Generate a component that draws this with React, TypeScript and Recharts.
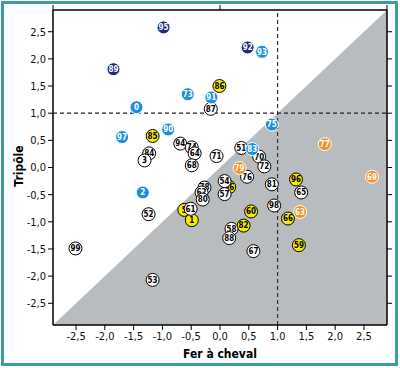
import { ComposedChart, Area, Scatter, XAxis, YAxis, ReferenceLine } from 'recharts'

// points: x = Fer à cheval, y = Tripôle
const navyPts = [
  { x: -0.98, y: 2.58, id: '95' },
  { x: -1.85, y: 1.81, id: '89' },
  { x: 0.48, y: 2.21, id: '92' },
]
const bluePts = [
  { x: 0.73, y: 2.13, id: '93' },
  { x: -0.56, y: 1.35, id: '73' },
  { x: -0.15, y: 1.29, id: '91' },
  { x: -1.45, y: 1.11, id: '0' },
  { x: 0.9, y: 0.79, id: '75' },
  { x: -0.9, y: 0.7, id: '90' },
  { x: -1.7, y: 0.56, id: '97' },
  { x: 0.56, y: 0.34, id: '83' },
  { x: -1.34, y: -0.46, id: '2' },
]
const yellowPts = [
  { x: -0.01, y: 1.5, id: '86' },
  { x: -1.17, y: 0.58, id: '85' },
  { x: 1.32, y: -0.22, id: '96' },
  { x: 0.16, y: -0.36, id: '56' },
  { x: 0.54, y: -0.81, id: '60' },
  { x: 1.18, y: -0.94, id: '66' },
  { x: 0.41, y: -1.07, id: '82' },
  { x: 1.37, y: -1.43, id: '59' },
  { x: -0.62, y: -0.78, id: '5' },
  { x: -0.49, y: -0.97, id: '1' },
]
const orangePts = [
  { x: 1.82, y: 0.43, id: '77' },
  { x: 0.34, y: -0.01, id: '79' },
  { x: 2.64, y: -0.17, id: '69' },
  { x: 1.39, y: -0.82, id: '63' },
]
const whitePts = [
  { x: -0.16, y: 1.08, id: '87' },
  { x: -0.69, y: 0.44, id: '94' },
  { x: -0.49, y: 0.37, id: '74' },
  { x: -0.44, y: 0.26, id: '64' },
  { x: -1.23, y: 0.26, id: '84' },
  { x: -1.31, y: 0.13, id: '3' },
  { x: -0.49, y: 0.04, id: '68' },
  { x: 0.37, y: 0.36, id: '51' },
  { x: -0.06, y: 0.21, id: '71' },
  { x: 0.68, y: 0.2, id: '70' },
  { x: 0.77, y: 0.02, id: '72' },
  { x: 0.47, y: -0.17, id: '76' },
  { x: 0.08, y: -0.25, id: '54' },
  { x: 0.08, y: -0.49, id: '57' },
  { x: -0.27, y: -0.37, id: '78' },
  { x: -0.32, y: -0.46, id: '62' },
  { x: -0.3, y: -0.59, id: '80' },
  { x: 0.9, y: -0.31, id: '81' },
  { x: 1.41, y: -0.46, id: '65' },
  { x: 0.94, y: -0.7, id: '98' },
  { x: 0.2, y: -1.13, id: '58' },
  { x: 0.16, y: -1.3, id: '88' },
  { x: 0.58, y: -1.54, id: '67' },
  { x: -0.51, y: -0.76, id: '61' },
  { x: -1.24, y: -0.86, id: '52' },
  { x: -2.51, y: -1.49, id: '99' },
  { x: -1.17, y: -2.07, id: '53' },
]
// grey zone under the diagonal
const diagonal = [
  { x: -2.9, y: -2.9 },
  { x: 2.9, y: 2.9 },
]
const ticks = [-2.5, -2, -1.5, -1, -0.5, 0, 0.5, 1, 1.5, 2, 2.5]
const domain: [number, number] = [-2.9, 2.9]

const FONT = '"Liberation Sans Narrow", "DejaVu Sans Condensed", "Arial Narrow", sans-serif'
const fmt = (v: number) => v.toFixed(1).replace('.', ',')
const blank = () => ''

function dot(fill: string, stroke: string, color: string) {
  return (p: any) => (
    <g>
      <circle cx={p.cx} cy={p.cy} r={6.5} fill={fill} stroke={stroke} strokeWidth={1} />
      <text x={p.cx} y={p.cy} dy="0.36em" textAnchor="middle" fontSize={8} fontWeight="bold"
        fontFamily={FONT} fill={color}>{p.payload.id}</text>
    </g>
  )
}

const tickStyle = { fill: '#111', fontSize: 11, fontFamily: FONT }

export default function App() {
  return (
    <div style={{ position: 'absolute', left: 0, top: 0, width: 400, height: 368, background: '#fff' }}>
      <div style={{ position: 'absolute', left: 1, top: 1, width: 397, height: 365, boxSizing: 'border-box', border: '3px solid #3a9c9e' }} />
      <ComposedChart width={400} height={368} data={diagonal}
        margin={{ top: 5, right: 8, bottom: 18, left: 23 }} style={{ position: 'absolute', left: 0, top: 0 }}>
        <XAxis type="number" dataKey="x" domain={domain} ticks={ticks} allowDataOverflow
          tickFormatter={fmt} tick={tickStyle} tickSize={5} height={25}
          axisLine={{ stroke: '#000', strokeWidth: 1.5 }} tickLine={{ stroke: '#000' }} />
        <XAxis xAxisId="top" orientation="top" type="number" domain={domain} ticks={ticks} allowDataOverflow
          tickFormatter={blank} tickSize={5} height={5}
          axisLine={{ stroke: '#000', strokeWidth: 1.5 }} tickLine={{ stroke: '#000' }} />
        <YAxis type="number" dataKey="y" domain={domain} ticks={ticks} allowDataOverflow
          tickFormatter={fmt} tick={tickStyle} tickSize={5} width={30}
          axisLine={{ stroke: '#000', strokeWidth: 1.5 }} tickLine={{ stroke: '#000' }} />
        <YAxis yAxisId="right" orientation="right" type="number" domain={domain} ticks={ticks} allowDataOverflow
          tickFormatter={blank} tickSize={5} width={5}
          axisLine={{ stroke: '#000', strokeWidth: 1.5 }} tickLine={{ stroke: '#000' }} />
        <Area type="linear" dataKey="y" baseValue="dataMin" fill="#b9bcbf" fillOpacity={1}
          stroke="none" isAnimationActive={false} />
        <ReferenceLine x={1} stroke="#333" strokeDasharray="4 3" strokeWidth={1.2} />
        <ReferenceLine y={1} stroke="#222" strokeDasharray="4 3" strokeWidth={1.2} />
        <Scatter data={yellowPts} shape={dot('#f5ea00', '#000', '#000')} isAnimationActive={false} />
        <Scatter data={whitePts} shape={dot('#fff', '#000', '#000')} isAnimationActive={false} />
        <Scatter data={navyPts} shape={dot('#1f2a78', '#fff', '#fff')} isAnimationActive={false} />
        <Scatter data={bluePts} shape={dot('#1b8fe0', '#fff', '#fff')} isAnimationActive={false} />
        <Scatter data={orangePts} shape={dot('#f39323', '#fff', '#fff')} isAnimationActive={false} />
      </ComposedChart>
      <div style={{ position: 'absolute', left: 19, top: 166, transform: 'translate(-50%, -50%) rotate(-90deg)',
        fontFamily: FONT, fontWeight: 'bold', fontSize: 12, whiteSpace: 'nowrap', color: '#000' }}>Tripôle</div>
      <div style={{ position: 'absolute', left: 220, top: 354, transform: 'translate(-50%, -50%)',
        fontFamily: FONT, fontWeight: 'bold', fontSize: 12, whiteSpace: 'nowrap', color: '#000' }}>Fer à cheval</div>
    </div>
  )
}
